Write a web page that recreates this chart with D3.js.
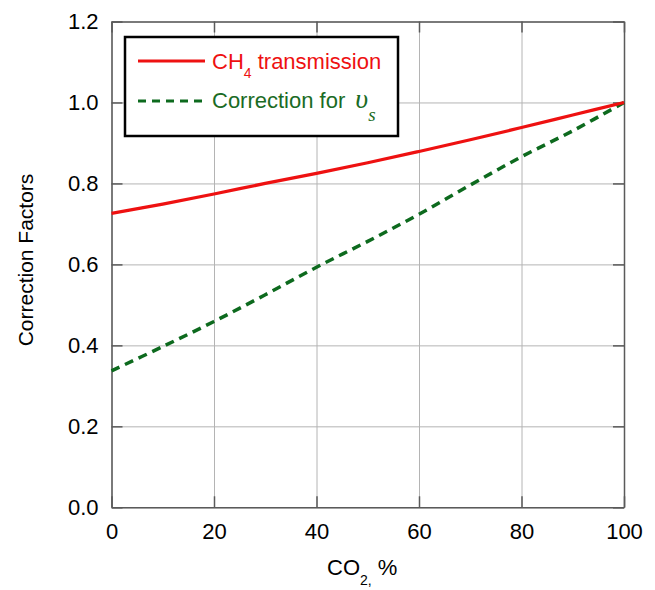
<!DOCTYPE html>
<html>
<head>
<meta charset="utf-8">
<script src="https://cdn.jsdelivr.net/npm/d3@7"></script>
<style>
  body { margin: 0; background: #fff; }
  text { font-family: Arial, "Liberation Sans", sans-serif; }
</style>
</head>
<body>
<script>
// data
let co2 = [0, 10, 20, 30, 40, 50, 60, 70, 80, 90, 100];
let ch4Transmission = [0.726, 0.749, 0.774, 0.800, 0.825, 0.851, 0.879, 0.908, 0.938, 0.969, 1.0];
let correctionVs = [0.337, 0.397, 0.459, 0.525, 0.593, 0.657, 0.724, 0.796, 0.866, 0.930, 1.0];
let xTicks = [0, 20, 40, 60, 80, 100];
let yTicks = [0, 0.2, 0.4, 0.6, 0.8, 1.0, 1.2];

let width = 655, height = 590;
let margin = { top: 21.5, bottom: 82.7, left: 111.5, right: 31 };

let svg = d3.select('body')
  .append('svg')
  .attr('width', width)
  .attr('height', height);

let xScale = d3.scaleLinear()
  .domain([0, 100])
  .range([margin.left, width - margin.right]);

let yScale = d3.scaleLinear()
  .domain([0, 1.2])
  .range([height - margin.bottom, margin.top]);

let plotW = width - margin.left - margin.right;
let plotH = height - margin.top - margin.bottom;

// grid
svg.append('g')
  .attr('transform', `translate(0,${height - margin.bottom})`)
  .call(d3.axisBottom(xScale).tickValues(xTicks).tickSize(-plotH).tickFormat(''))
  .call(g => g.select('.domain').remove())
  .call(g => g.selectAll('line').attr('stroke', '#b4b4b4').attr('stroke-width', 1));

svg.append('g')
  .attr('transform', `translate(${margin.left},0)`)
  .call(d3.axisLeft(yScale).tickValues(yTicks).tickSize(-plotW).tickFormat(''))
  .call(g => g.select('.domain').remove())
  .call(g => g.selectAll('line').attr('stroke', '#b4b4b4').attr('stroke-width', 1));

// frame with inward ticks
let tickLen = 11;
let axisStyle = g => {
  g.select('.domain').attr('stroke', '#5a5a5a').attr('stroke-width', 1.5);
  g.selectAll('.tick line').attr('stroke', '#5a5a5a').attr('stroke-width', 1.5);
};

svg.append('g')
  .attr('transform', `translate(0,${height - margin.bottom})`)
  .call(d3.axisBottom(xScale).tickValues(xTicks).tickSizeInner(-tickLen).tickSizeOuter(0)
    .tickPadding(tickLen + 5).tickFormat(d3.format('d')))
  .call(axisStyle)
  .call(g => g.selectAll('text').attr('font-size', 22).attr('fill', '#000')
    .attr('font-family', 'Arial, "Liberation Sans", sans-serif'));

svg.append('g')
  .attr('transform', `translate(0,${margin.top})`)
  .call(d3.axisTop(xScale).tickValues(xTicks).tickSizeInner(-tickLen).tickSizeOuter(0).tickFormat(''))
  .call(axisStyle);

svg.append('g')
  .attr('transform', `translate(${margin.left},0)`)
  .call(d3.axisLeft(yScale).tickValues(yTicks).tickSizeInner(-tickLen).tickSizeOuter(0)
    .tickPadding(tickLen + 2).tickFormat(d3.format('.1f')))
  .call(axisStyle)
  .call(g => g.selectAll('text').attr('font-size', 22).attr('fill', '#000')
    .attr('font-family', 'Arial, "Liberation Sans", sans-serif'));

svg.append('g')
  .attr('transform', `translate(${width - margin.right},0)`)
  .call(d3.axisRight(yScale).tickValues(yTicks).tickSizeInner(-tickLen).tickSizeOuter(0).tickFormat(''))
  .call(axisStyle);

// lines
let line = d3.line()
  .x((d, i) => xScale(co2[i]))
  .y(d => yScale(d))
  .curve(d3.curveCatmullRom);

svg.append('path')
  .datum(correctionVs)
  .attr('d', line)
  .attr('fill', 'none')
  .attr('stroke', '#0d6a1e')
  .attr('stroke-width', 3.5)
  .attr('stroke-dasharray', '9,6');

svg.append('path')
  .datum(ch4Transmission)
  .attr('d', line)
  .attr('fill', 'none')
  .attr('stroke', '#ee1111')
  .attr('stroke-width', 3.2);

// legend
let legend = svg.append('g');
legend.append('rect')
  .attr('x', 125).attr('y', 37)
  .attr('width', 273).attr('height', 99)
  .attr('fill', '#fff')
  .attr('stroke', '#000')
  .attr('stroke-width', 2.5);

legend.append('line')
  .attr('x1', 138).attr('x2', 205).attr('y1', 61).attr('y2', 61)
  .attr('stroke', '#ee1111').attr('stroke-width', 3);

legend.append('line')
  .attr('x1', 138).attr('x2', 205).attr('y1', 101).attr('y2', 101)
  .attr('stroke', '#0d6a1e').attr('stroke-width', 3)
  .attr('stroke-dasharray', '8,6');

let t1 = legend.append('text')
  .attr('x', 212).attr('y', 69)
  .attr('font-size', 22).attr('fill', '#ee1111');
t1.append('tspan').text('CH');
t1.append('tspan').attr('font-size', 14).attr('dy', 9).text('4');
t1.append('tspan').attr('dy', -9).text(' transmission');

let t2 = legend.append('text')
  .attr('x', 212).attr('y', 108)
  .attr('font-size', 22).attr('fill', '#1a6b24');
t2.append('tspan').text('Correction for');
t2.append('tspan')
  .attr('font-family', '"Liberation Serif", "DejaVu Serif", serif')
  .attr('font-style', 'italic').attr('font-size', 28).attr('dx', 10).text('υ');
t2.append('tspan')
  .attr('font-family', '"Liberation Serif", "DejaVu Serif", serif')
  .attr('font-style', 'italic').attr('font-size', 19).attr('dx', 0).attr('dy', 13).text('s');

// axis titles
let xt = svg.append('text')
  .attr('x', 327).attr('y', 575)
  .attr('font-size', 22).attr('fill', '#000');
xt.append('tspan').text('CO');
xt.append('tspan').attr('font-size', 14).attr('dy', 10).text('2,');
xt.append('tspan').attr('dy', -10).text(' %');

svg.append('text')
  .attr('transform', `translate(33,260) rotate(-90)`)
  .attr('text-anchor', 'middle')
  .attr('font-size', 21).attr('fill', '#000')
  .text('Correction Factors');
</script>
</body>
</html>
